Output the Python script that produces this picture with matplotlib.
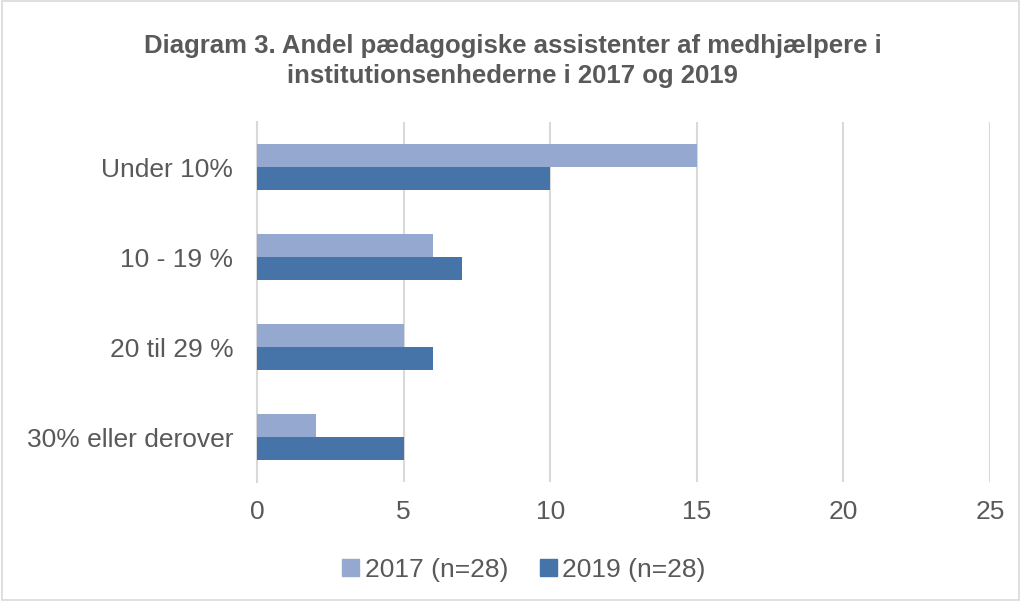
import matplotlib.pyplot as plt
import matplotlib.patches as mpatches
import numpy as np

plt.rcParams['font.family'] = ['Liberation Sans', 'DejaVu Sans']

categories = ['Under 10%', '10 - 19 %', '20 til 29 %', '30% eller derover']
values_2017 = [15, 6, 5, 2]
values_2019 = [10, 7, 6, 5]
labels = ['2017 (n=28)', '2019 (n=28)']
colors = ['#95A9D0', '#4674A8']

fig = plt.figure(figsize=(10.21, 6.01), dpi=100)
ax = fig.add_axes([0.2517, 0.198, 0.7179, 0.599])

y = np.arange(len(categories))
h = 0.26
ax.barh(y - h / 2, values_2017, height=h, color=colors[0], label=labels[0], zorder=3)
ax.barh(y + h / 2, values_2019, height=h, color=colors[1], label=labels[1], zorder=3)

ax.set_ylim(3.5, -0.5)
ax.set_xlim(0, 25)
ax.set_xticks(range(0, 26, 5))
ax.set_yticks(y)
ax.set_yticklabels(categories)
ax.tick_params(axis='both', length=0, labelsize=19, colors='#595959')
ax.tick_params(axis='y', pad=17)
ax.tick_params(axis='x', pad=13)
ax.grid(axis='x', color='#D9D9D9', linewidth=1.5, zorder=0)
for s in ['top', 'right', 'bottom']:
    ax.spines[s].set_visible(False)
ax.spines['left'].set_color('#D9D9D9')
ax.spines['left'].set_linewidth(1.5)

fig.suptitle('Diagram 3. Andel pædagogiske assistenter af medhjælpere i\ninstitutionsenhederne i 2017 og 2019',
             x=0.502, y=0.943, fontsize=18.5, fontweight='bold', color='#595959', linespacing=1.3)

handles = [mpatches.Patch(color=colors[0], label=labels[0]),
           mpatches.Patch(color=colors[1], label=labels[1])]
fig.legend(handles=handles, loc='center', bbox_to_anchor=(0.513, 0.052), ncol=2, frameon=False,
           fontsize=19, labelcolor='#595959', handlelength=0.65, handleheight=0.65,
           handletextpad=0.2, columnspacing=1.2)

fig.patches.append(mpatches.Rectangle((0.002, 0.002), 0.996, 0.996, transform=fig.transFigure,
                                      fill=False, edgecolor='#D9D9D9', linewidth=1.2))

fig.savefig('out.png', dpi=100)
